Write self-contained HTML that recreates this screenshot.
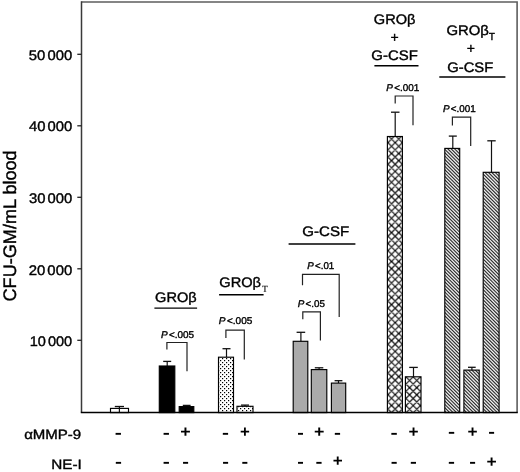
<!DOCTYPE html>
<html><head><meta charset="utf-8"><title>CFU-GM chart</title><style>
html,body{margin:0;padding:0;background:#fff;}
svg{display:block;}
text{font-family:"Liberation Sans",Arial,sans-serif;fill:#000;stroke:#000;stroke-width:0.38px;text-rendering:geometricPrecision;}
.tl{font-size:13.9px;}
.yl{font-size:18.1px;}
.pl{font-size:9.9px;}
.gl{font-size:13.8px;}
.sub{font-size:8.6px;}
.rl{font-size:13.5px;}
.sg{font-size:16px;font-weight:bold;stroke-width:0;}
.pgl{font-size:13.8px;}
.subs{font-size:9px;font-family:"Liberation Serif",serif;stroke-width:0.1px;}
.ul{stroke:#000;stroke-width:1.4;}
</style></head><body>
<svg xmlns="http://www.w3.org/2000/svg" width="520" height="472" viewBox="0 0 520 472">
<defs>
<pattern id="dots" patternUnits="userSpaceOnUse" width="4" height="4" x="0" y="0">
<rect width="4" height="4" fill="#fff"/>
<rect x="0" y="0" width="1.2" height="1.2" fill="#000"/><rect x="2" y="2" width="1.2" height="1.2" fill="#000"/>
</pattern>
<pattern id="xh" patternUnits="userSpaceOnUse" width="36" height="36" x="35.17" y="34.63">
<rect width="36" height="36" fill="#fff"/>
<path d="M-2,-53.18 L38,-13.18 L38,-11.62 L-2,-51.62Z M-2,-45.98 L38,-5.98 L38,-4.42 L-2,-44.42Z M-2,-38.78 L38,1.22 L38,2.78 L-2,-37.22Z M-2,-31.58 L38,8.42 L38,9.98 L-2,-30.02Z M-2,-24.38 L38,15.62 L38,17.18 L-2,-22.82Z M-2,-17.18 L38,22.82 L38,24.38 L-2,-15.62Z M-2,-9.98 L38,30.02 L38,31.58 L-2,-8.42Z M-2,-2.78 L38,37.22 L38,38.78 L-2,-1.22Z M-2,4.42 L38,44.42 L38,45.98 L-2,5.98Z M-2,11.62 L38,51.62 L38,53.18 L-2,13.18Z M-2,18.82 L38,58.82 L38,60.38 L-2,20.38Z M-2,26.02 L38,66.02 L38,67.58 L-2,27.58Z M-2,33.22 L38,73.22 L38,74.78 L-2,34.78Z M-2,40.42 L38,80.42 L38,81.98 L-2,41.98Z M-2,47.62 L38,87.62 L38,89.18 L-2,49.18Z M-2,1.22 L38,-38.78 L38,-37.22 L-2,2.78Z M-2,8.42 L38,-31.58 L38,-30.02 L-2,9.98Z M-2,15.62 L38,-24.38 L38,-22.82 L-2,17.18Z M-2,22.82 L38,-17.18 L38,-15.62 L-2,24.38Z M-2,30.02 L38,-9.98 L38,-8.42 L-2,31.58Z M-2,37.22 L38,-2.78 L38,-1.22 L-2,38.78Z M-2,44.42 L38,4.42 L38,5.98 L-2,45.98Z M-2,51.62 L38,11.62 L38,13.18 L-2,53.18Z M-2,58.82 L38,18.82 L38,20.38 L-2,60.38Z M-2,66.02 L38,26.02 L38,27.58 L-2,67.58Z M-2,73.22 L38,33.22 L38,34.78 L-2,74.78Z M-2,80.42 L38,40.42 L38,41.98 L-2,81.98Z M-2,87.62 L38,47.62 L38,49.18 L-2,89.18Z" fill="#000"/>
</pattern>
<pattern id="xh2" patternUnits="userSpaceOnUse" width="36" height="36" x="17.20" y="16.80">
<rect width="36" height="36" fill="#fff"/>
<path d="M-2,-53.18 L38,-13.18 L38,-11.62 L-2,-51.62Z M-2,-45.98 L38,-5.98 L38,-4.42 L-2,-44.42Z M-2,-38.78 L38,1.22 L38,2.78 L-2,-37.22Z M-2,-31.58 L38,8.42 L38,9.98 L-2,-30.02Z M-2,-24.38 L38,15.62 L38,17.18 L-2,-22.82Z M-2,-17.18 L38,22.82 L38,24.38 L-2,-15.62Z M-2,-9.98 L38,30.02 L38,31.58 L-2,-8.42Z M-2,-2.78 L38,37.22 L38,38.78 L-2,-1.22Z M-2,4.42 L38,44.42 L38,45.98 L-2,5.98Z M-2,11.62 L38,51.62 L38,53.18 L-2,13.18Z M-2,18.82 L38,58.82 L38,60.38 L-2,20.38Z M-2,26.02 L38,66.02 L38,67.58 L-2,27.58Z M-2,33.22 L38,73.22 L38,74.78 L-2,34.78Z M-2,40.42 L38,80.42 L38,81.98 L-2,41.98Z M-2,47.62 L38,87.62 L38,89.18 L-2,49.18Z M-2,1.22 L38,-38.78 L38,-37.22 L-2,2.78Z M-2,8.42 L38,-31.58 L38,-30.02 L-2,9.98Z M-2,15.62 L38,-24.38 L38,-22.82 L-2,17.18Z M-2,22.82 L38,-17.18 L38,-15.62 L-2,24.38Z M-2,30.02 L38,-9.98 L38,-8.42 L-2,31.58Z M-2,37.22 L38,-2.78 L38,-1.22 L-2,38.78Z M-2,44.42 L38,4.42 L38,5.98 L-2,45.98Z M-2,51.62 L38,11.62 L38,13.18 L-2,53.18Z M-2,58.82 L38,18.82 L38,20.38 L-2,60.38Z M-2,66.02 L38,26.02 L38,27.58 L-2,67.58Z M-2,73.22 L38,33.22 L38,34.78 L-2,74.78Z M-2,80.42 L38,40.42 L38,41.98 L-2,81.98Z M-2,87.62 L38,47.62 L38,49.18 L-2,89.18Z" fill="#000"/>
</pattern>
<pattern id="dh" patternUnits="userSpaceOnUse" width="17" height="17" x="3.2" y="0">
<rect width="17" height="17" fill="#fff"/>
<path d="M-2,-26.52 L19,-5.52 L19,-4.08 L-2,-25.08Z M-2,-23.12 L19,-2.12 L19,-0.68 L-2,-21.68Z M-2,-19.72 L19,1.28 L19,2.72 L-2,-18.28Z M-2,-16.32 L19,4.68 L19,6.12 L-2,-14.88Z M-2,-12.92 L19,8.08 L19,9.52 L-2,-11.48Z M-2,-9.52 L19,11.48 L19,12.92 L-2,-8.08Z M-2,-6.12 L19,14.88 L19,16.32 L-2,-4.68Z M-2,-2.72 L19,18.28 L19,19.72 L-2,-1.28Z M-2,0.68 L19,21.68 L19,23.12 L-2,2.12Z M-2,4.08 L19,25.08 L19,26.52 L-2,5.52Z M-2,7.48 L19,28.48 L19,29.92 L-2,8.92Z M-2,10.88 L19,31.88 L19,33.32 L-2,12.32Z M-2,14.28 L19,35.28 L19,36.72 L-2,15.72Z M-2,17.68 L19,38.68 L19,40.12 L-2,19.12Z" fill="#000"/>
</pattern>
</defs>
<rect width="520" height="472" fill="#fff"/>
<path d="M81.5,2.0 L517.1,2.0 L517.1,412.6" fill="none" stroke="#5e5e5e" stroke-width="1.6"/>
<line x1="81.5" y1="1.2" x2="81.5" y2="412.6" stroke="#3a3a3a" stroke-width="1.5"/>
<line x1="77.3" y1="340.3" x2="81.5" y2="340.3" stroke="#222" stroke-width="1.3"/>
<line x1="77.3" y1="268.8" x2="81.5" y2="268.8" stroke="#222" stroke-width="1.3"/>
<line x1="77.3" y1="197.3" x2="81.5" y2="197.3" stroke="#222" stroke-width="1.3"/>
<line x1="77.3" y1="125.8" x2="81.5" y2="125.8" stroke="#222" stroke-width="1.3"/>
<line x1="77.3" y1="54.3" x2="81.5" y2="54.3" stroke="#222" stroke-width="1.3"/>
<text transform="translate(15.8,225.9) rotate(-90)" text-anchor="middle" class="yl">CFU-GM/mL blood</text>
<line x1="119.4" y1="406.5" x2="119.4" y2="408.4" stroke="#111" stroke-width="1.2"/>
<line x1="114.8" y1="406.5" x2="124.0" y2="406.5" stroke="#111" stroke-width="1.3"/>
<rect x="110.5" y="408.4" width="18.0" height="4.2" fill="none" stroke="#000" stroke-width="1.15"/>
<line x1="167.2" y1="361.4" x2="167.2" y2="366.0" stroke="#111" stroke-width="1.2"/>
<line x1="163.2" y1="361.4" x2="171.2" y2="361.4" stroke="#111" stroke-width="1.3"/>
<rect x="159.3" y="366.0" width="15.5" height="46.6" fill="#000" stroke="#000" stroke-width="1.15"/>
<line x1="186.7" y1="405.4" x2="186.7" y2="406.6" stroke="#111" stroke-width="1.2"/>
<line x1="182.8" y1="405.4" x2="190.6" y2="405.4" stroke="#111" stroke-width="1.3"/>
<rect x="179.2" y="406.6" width="14.6" height="6.0" fill="#000" stroke="#000" stroke-width="1.15"/>
<line x1="226.5" y1="348.7" x2="226.5" y2="357.2" stroke="#111" stroke-width="1.2"/>
<line x1="222.5" y1="348.7" x2="230.5" y2="348.7" stroke="#111" stroke-width="1.3"/>
<rect x="218.5" y="357.2" width="15.0" height="55.4" fill="url(#dots)" stroke="#000" stroke-width="1.15"/>
<line x1="245.0" y1="405.1" x2="245.0" y2="406.3" stroke="#111" stroke-width="1.2"/>
<line x1="241.0" y1="405.1" x2="249.0" y2="405.1" stroke="#111" stroke-width="1.3"/>
<rect x="237.0" y="406.3" width="16.0" height="6.3" fill="url(#dots)" stroke="#000" stroke-width="1.15"/>
<line x1="300.9" y1="332.3" x2="300.9" y2="341.3" stroke="#111" stroke-width="1.2"/>
<line x1="296.6" y1="332.3" x2="305.2" y2="332.3" stroke="#111" stroke-width="1.3"/>
<rect x="293.2" y="341.3" width="14.6" height="71.3" fill="#aaa" stroke="#000" stroke-width="1.15"/>
<line x1="319.1" y1="367.8" x2="319.1" y2="369.6" stroke="#111" stroke-width="1.2"/>
<line x1="314.8" y1="367.8" x2="323.3" y2="367.8" stroke="#111" stroke-width="1.3"/>
<rect x="311.3" y="369.6" width="15.5" height="43.0" fill="#aaa" stroke="#000" stroke-width="1.15"/>
<line x1="338.5" y1="380.7" x2="338.5" y2="383.1" stroke="#111" stroke-width="1.2"/>
<line x1="334.6" y1="380.7" x2="342.4" y2="380.7" stroke="#111" stroke-width="1.3"/>
<rect x="331.4" y="383.1" width="14.3" height="29.5" fill="#aaa" stroke="#000" stroke-width="1.15"/>
<line x1="395.2" y1="112.2" x2="395.2" y2="136.5" stroke="#111" stroke-width="1.2"/>
<line x1="391.0" y1="112.2" x2="399.5" y2="112.2" stroke="#111" stroke-width="1.3"/>
<rect x="387.4" y="136.5" width="15.0" height="276.1" fill="url(#xh)" stroke="#000" stroke-width="1.15"/>
<line x1="413.5" y1="367.4" x2="413.5" y2="376.8" stroke="#111" stroke-width="1.2"/>
<line x1="409.2" y1="367.4" x2="417.8" y2="367.4" stroke="#111" stroke-width="1.3"/>
<rect x="405.4" y="376.8" width="15.6" height="35.8" fill="url(#xh2)" stroke="#000" stroke-width="1.15"/>
<line x1="452.8" y1="136.1" x2="452.8" y2="148.4" stroke="#111" stroke-width="1.2"/>
<line x1="448.8" y1="136.1" x2="456.8" y2="136.1" stroke="#111" stroke-width="1.3"/>
<rect x="444.8" y="148.4" width="14.9" height="264.2" fill="url(#dh)" stroke="#000" stroke-width="1.15"/>
<line x1="471.9" y1="367.3" x2="471.9" y2="370.1" stroke="#111" stroke-width="1.2"/>
<line x1="468.0" y1="367.3" x2="475.7" y2="367.3" stroke="#111" stroke-width="1.3"/>
<rect x="463.9" y="370.1" width="15.3" height="42.5" fill="url(#dh)" stroke="#000" stroke-width="1.15"/>
<line x1="491.5" y1="140.8" x2="491.5" y2="172.3" stroke="#111" stroke-width="1.2"/>
<line x1="487.3" y1="140.8" x2="495.7" y2="140.8" stroke="#111" stroke-width="1.3"/>
<rect x="483.2" y="172.3" width="15.9" height="240.3" fill="url(#dh)" stroke="#000" stroke-width="1.15"/>
<line x1="119.4" y1="408.4" x2="119.4" y2="412.6" stroke="#111" stroke-width="1.2"/>
<line x1="80.8" y1="412.6" x2="517.8000000000001" y2="412.6" stroke="#000" stroke-width="1.5"/>
<polyline points="166.9,349.6 166.9,342.5 187.0,342.5 187.0,371.3" fill="none" stroke="#222" stroke-width="1.2"/>
<polyline points="225.9,337.9 225.9,330.1 244.3,330.1 244.3,359.6" fill="none" stroke="#222" stroke-width="1.2"/>
<polyline points="302.5,285.2 302.5,274.4 339.2,274.4 339.2,317.1" fill="none" stroke="#222" stroke-width="1.2"/>
<polyline points="302.8,319.3 302.8,311.9 320.4,311.9 320.4,340.6" fill="none" stroke="#222" stroke-width="1.2"/>
<polyline points="395.2,103.6 395.2,96.0 413.0,96.0 413.0,125.2" fill="none" stroke="#222" stroke-width="1.2"/>
<polyline points="452.4,125.6 452.4,117.1 470.7,117.1 470.7,145.9" fill="none" stroke="#222" stroke-width="1.2"/>
<line x1="154.4" y1="308.1" x2="197.1" y2="308.1" class="ul"/>
<line x1="219.1" y1="294.7" x2="263.6" y2="294.7" class="ul"/>
<line x1="288.6" y1="244.0" x2="355.4" y2="244.0" class="ul"/>
<line x1="374.4" y1="65.8" x2="418.5" y2="65.8" class="ul"/>
<line x1="439.3" y1="77.0" x2="505.4" y2="77.0" class="ul"/>
<text class="tl" transform="matrix(1.0667 0 0 1 28.87 59.50)">50<tspan dx="2.0">000</tspan></text>
<text class="tl" transform="matrix(1.0650 0 0 1 28.93 131.30)">40<tspan dx="2.0">000</tspan></text>
<text class="tl" transform="matrix(1.0650 0 0 1 28.93 203.00)">30<tspan dx="2.0">000</tspan></text>
<text class="tl" transform="matrix(1.0717 0 0 1 28.66 274.50)">20<tspan dx="2.0">000</tspan></text>
<text class="tl" transform="matrix(1.0456 0 0 1 29.72 345.90)">10<tspan dx="2.0">000</tspan></text>
<text class="rl" transform="matrix(1.1124 0 0 1 24.14 438.80)">αMMP-9</text>
<text class="rl" transform="matrix(1.1320 0 0 1 51.17 468.70)">NE-I</text>
<text class="pl" transform="matrix(1.0092 0 0 1 160.95 337.50)"><tspan font-style="italic">P</tspan><tspan dx="1.3">&lt;.005</tspan></text>
<text class="pl" transform="matrix(1.0185 0 0 1 218.85 324.30)"><tspan font-style="italic">P</tspan><tspan dx="1.3">&lt;.005</tspan></text>
<text class="pl" transform="matrix(0.9832 0 0 1 307.25 269.30)"><tspan font-style="italic">P</tspan><tspan dx="1.3">&lt;.01</tspan></text>
<text class="pl" transform="matrix(0.9926 0 0 1 297.75 306.70)"><tspan font-style="italic">P</tspan><tspan dx="1.3">&lt;.05</tspan></text>
<text class="pl" transform="matrix(1.0047 0 0 1 386.25 91.30)"><tspan font-style="italic">P</tspan><tspan dx="1.3">&lt;.001</tspan></text>
<text class="pl" transform="matrix(0.9984 0 0 1 442.95 112.00)"><tspan font-style="italic">P</tspan><tspan dx="1.3">&lt;.001</tspan></text>
<text class="gl" transform="matrix(1.0545 0 0 1 155.07 301.50)">GROβ</text>
<text class="gl" transform="matrix(1.0597 0 0 1 219.27 287.30)">GROβ</text>
<text class="subs" transform="matrix(1.0727 0 0 1.0667 261.90 291.60)">T</text>
<text class="gl" transform="matrix(1.0905 0 0 1 302.35 236.10)">G-CSF</text>
<text class="gl" transform="matrix(1.0571 0 0 1 373.87 23.70)">GROβ</text>
<text class="gl" transform="matrix(1.0810 0 0 1 371.36 60.20)">G-CSF</text>
<text class="gl" transform="matrix(1.0779 0 0 1 446.46 35.40)">GROβ</text>
<text class="sub" transform="matrix(1.1048 0 0 1.2000 489.10 39.50)">T</text>
<text class="gl" transform="matrix(1.0690 0 0 1 447.27 71.90)">G-CSF</text>
<text class="pgl" transform="matrix(1.0143 0 0 1 390.49 41.70)">+</text>
<text class="pgl" transform="matrix(1.0143 0 0 1 466.79 53.40)">+</text>
<text class="sg" transform="matrix(1.3250 0 0 1 114.81 437.62)">-</text>
<text class="sg" transform="matrix(1.3000 0 0 1 115.03 466.93)">-</text>
<text class="sg" transform="matrix(1.3250 0 0 1 162.81 437.62)">-</text>
<text class="sg" transform="matrix(1.1125 0 0 1 180.37 436.85)">+</text>
<text class="sg" transform="matrix(1.3250 0 0 1 162.81 466.93)">-</text>
<text class="sg" transform="matrix(1.2500 0 0 1 182.16 466.93)">-</text>
<text class="sg" transform="matrix(1.3000 0 0 1 222.03 437.62)">-</text>
<text class="sg" transform="matrix(1.0500 0 0 1 239.91 436.95)">+</text>
<text class="sg" transform="matrix(1.2500 0 0 1 222.26 466.93)">-</text>
<text class="sg" transform="matrix(1.2500 0 0 1 241.56 466.93)">-</text>
<text class="sg" transform="matrix(1.2250 0 0 1 297.18 437.73)">-</text>
<text class="sg" transform="matrix(1.1125 0 0 1 313.97 436.75)">+</text>
<text class="sg" transform="matrix(1.3000 0 0 1 334.02 437.73)">-</text>
<text class="sg" transform="matrix(1.2250 0 0 1 297.18 467.02)">-</text>
<text class="sg" transform="matrix(1.3000 0 0 1 315.52 467.02)">-</text>
<text class="sg" transform="matrix(1.0625 0 0 1 332.80 466.35)">+</text>
<text class="sg" transform="matrix(1.3500 0 0 1 390.59 437.62)">-</text>
<text class="sg" transform="matrix(1.0750 0 0 1 408.39 436.95)">+</text>
<text class="sg" transform="matrix(1.2750 0 0 1 390.64 467.02)">-</text>
<text class="sg" transform="matrix(1.2750 0 0 1 409.94 467.02)">-</text>
<text class="sg" transform="matrix(1.3250 0 0 1 448.01 437.43)">-</text>
<text class="sg" transform="matrix(1.0750 0 0 1 467.59 436.75)">+</text>
<text class="sg" transform="matrix(1.2500 0 0 1 488.16 437.43)">-</text>
<text class="sg" transform="matrix(1.3000 0 0 1 448.02 467.02)">-</text>
<text class="sg" transform="matrix(1.2500 0 0 1 469.16 467.02)">-</text>
<text class="sg" transform="matrix(1.0875 0 0 1 486.58 466.65)">+</text>
</svg>
</body></html>
